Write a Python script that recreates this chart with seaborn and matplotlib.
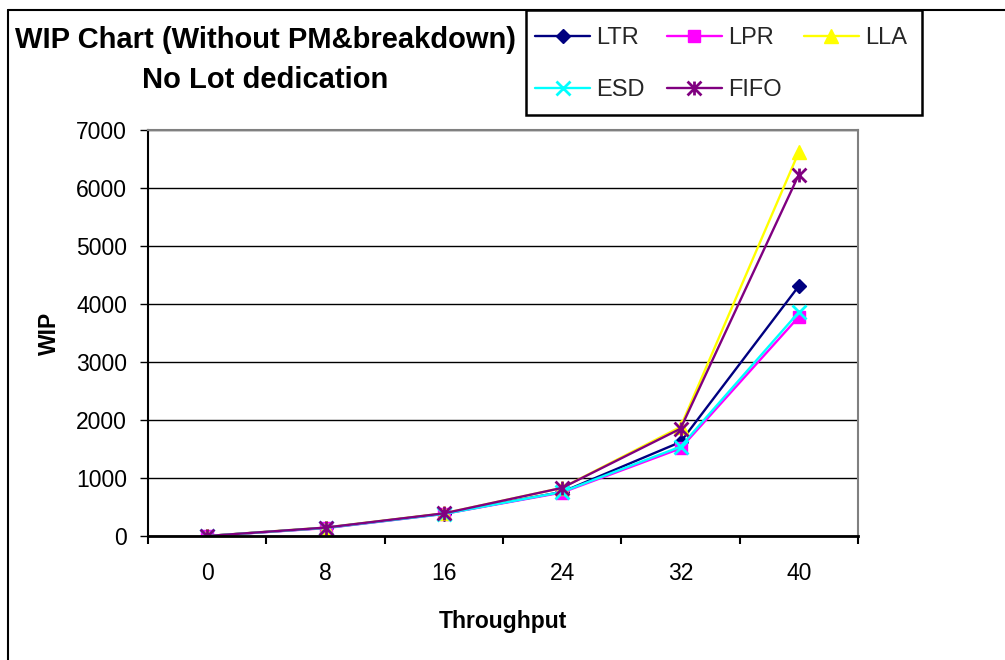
import matplotlib
matplotlib.use("Agg")
import matplotlib.pyplot as plt
from matplotlib.path import Path
from matplotlib.lines import Line2D
from matplotlib.patches import Rectangle
from matplotlib.ticker import FixedLocator
import seaborn as sns

# Throughput categories and WIP per dispatching rule
throughput = ["0", "8", "16", "24", "32", "40"]
ltr = [0, 140, 385, 760, 1620, 4310]
lpr = [0, 135, 380, 750, 1510, 3780]
lla = [0, 145, 390, 830, 1880, 6620]
esd = [0, 140, 380, 760, 1540, 3860]
fifo = [0, 145, 390, 830, 1850, 6230]

series_names = ["LTR", "LPR", "LLA", "ESD", "FIFO"]
series_values = [ltr, lpr, lla, esd, fifo]
y_ticks = [0, 1000, 2000, 3000, 4000, 5000, 6000, 7000]

sns.set_theme(style="white")
plt.rcParams["font.family"] = ["Liberation Sans", "DejaVu Sans"]

# Asterisk marker: an "x" crossed by a vertical bar
asterisk = Path(
    [(0, -1), (0, 1), (-1, -1), (1, 1), (-1, 1), (1, -1)],
    [Path.MOVETO, Path.LINETO, Path.MOVETO, Path.LINETO, Path.MOVETO, Path.LINETO],
)

styles = {
    "LTR": dict(color="#000080", marker="D", markersize=7.5, markeredgewidth=1.0),
    "LPR": dict(color="#FF00FF", marker="s", markersize=8.5, markeredgewidth=1.0),
    "LLA": dict(color="#FFFF00", marker="^", markersize=10, markeredgewidth=1.0),
    "ESD": dict(color="#00FFFF", marker="x", markersize=9.5, markeredgewidth=2.0),
    "FIFO": dict(color="#800080", marker=asterisk, markersize=10, markeredgewidth=2.0),
}

fig = plt.figure(figsize=(10.05, 6.6), dpi=100)
ax = fig.add_axes([148 / 1005, 1 - 536 / 660, 710 / 1005, 406 / 660])

for name, values in zip(series_names, series_values):
    st = styles[name]
    sns.lineplot(
        x=throughput, y=values, ax=ax, sort=False, legend=False,
        color=st["color"], linewidth=1.7,
        marker=st["marker"], markersize=st["markersize"],
        markeredgewidth=st["markeredgewidth"], markeredgecolor=st["color"],
        markerfacecolor=st["color"],
    )

ax.set_xlim(-0.5, len(throughput) - 0.5)
ax.set_ylim(0, 7000)
ax.set_yticks(y_ticks)
ax.set_yticklabels([str(v) for v in y_ticks])
ax.set_axisbelow(True)
ax.yaxis.grid(True, color="black", linewidth=1.0)
ax.xaxis.grid(False)

# Tick marks sit between categories on the x axis
ax.xaxis.set_minor_locator(FixedLocator([i - 0.5 for i in range(len(throughput) + 1)]))
ax.tick_params(axis="x", which="major", length=0, pad=19, labelsize=16.5, colors="black")
ax.tick_params(axis="x", which="minor", bottom=True, direction="out", length=6, width=1.5, color="black")
ax.tick_params(axis="y", which="major", left=True, direction="out", length=6, width=1.0,
               pad=9, labelsize=16.5, colors="black")

for side in ("left", "bottom"):
    ax.spines[side].set_color("black")
ax.spines["left"].set_linewidth(1.5)
ax.spines["bottom"].set_linewidth(2.0)
for side in ("top", "right"):
    ax.spines[side].set_color("#808080")
    ax.spines[side].set_linewidth(1.5)

ax.set_xlabel("Throughput", fontsize=16.5, fontweight="bold", color="black")
ax.set_ylabel("WIP", fontsize=16.5, fontweight="bold", color="black")
ax.xaxis.set_label_coords(0.5, -0.182)
ax.yaxis.set_label_coords(-0.123, 0.5)

# Title block
fig.text(265 / 1005, 1 - 60 / 660, "WIP Chart (Without PM&breakdown)\nNo Lot dedication",
         ha="center", va="center", multialignment="center",
         fontsize=21, fontweight="bold", color="black", linespacing=1.5)

# Legend, filled row by row
handles = {}
for name in series_names:
    st = styles[name]
    handles[name] = Line2D([], [], color=st["color"], linewidth=1.7, marker=st["marker"],
                           markersize=st["markersize"], markeredgewidth=st["markeredgewidth"],
                           markeredgecolor=st["color"], markerfacecolor=st["color"])
order = ["LTR", "ESD", "LPR", "FIFO", "LLA"]
fig.legend([handles[n] for n in order], order, ncol=3, frameon=False, fontsize=17,
           loc="upper left", bbox_to_anchor=(535 / 1005, 1 - 27 / 660), borderpad=0,
           handlelength=2.33, handletextpad=0.25, columnspacing=0.95, labelspacing=1.27,
           borderaxespad=0)
fig.add_artist(Rectangle((526 / 1005, 1 - 115 / 660), 396 / 1005, 105 / 660,
                         transform=fig.transFigure, fill=False, edgecolor="black", linewidth=1.8))

# Outer chart frame (top and left edges)
fig.add_artist(Line2D([8 / 1005, 1.0], [1 - 10 / 660, 1 - 10 / 660], transform=fig.transFigure,
                      color="black", linewidth=1.5))
fig.add_artist(Line2D([8 / 1005, 8 / 1005], [0.0, 1 - 10 / 660], transform=fig.transFigure,
                      color="black", linewidth=1.5))

fig.savefig("out.png", dpi=100)
